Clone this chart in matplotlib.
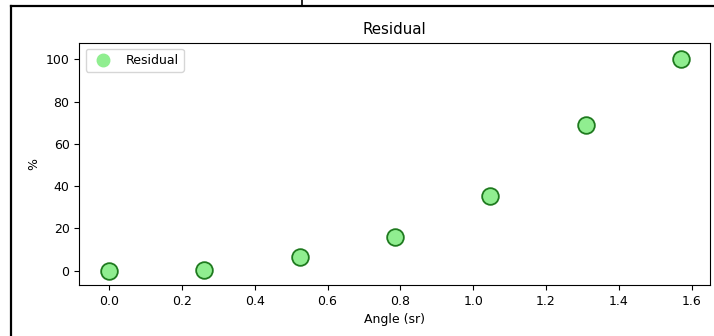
import numpy as np
import matplotlib
matplotlib.use("Agg")
import matplotlib.pyplot as plt
from matplotlib.lines import Line2D

# angles in 15 degree steps, residual in percent
angle = [0.0, 0.2618, 0.5236, 0.7854, 1.0472, 1.3090, 1.5708]
residual = [0.0, 0.1, 6.2, 16.1, 35.5, 68.7, 100.0]

fig = plt.figure(figsize=(7.14, 3.36), dpi=100)
ax = fig.add_axes([0.111, 0.152, 0.883, 0.721])

# legend entry (plain filled marker) drawn under the edged points
ax.plot(angle, residual, 'o', color='lightgreen', ms=9, label='Residual')
ax.scatter(angle, residual, s=144, c='lightgreen', edgecolors='#1f7a1f',
           linewidths=1.3, zorder=3)

ax.set_xlim(-0.082, 1.65)
ax.set_ylim(-6.8, 107.9)
ax.set_xticks(np.arange(0, 1.61, 0.2))
ax.set_yticks([0, 20, 40, 60, 80, 100])
ax.tick_params(labelsize=9)
ax.set_title('Residual', fontsize=10.8)
ax.set_xlabel('Angle (sr)', fontsize=9)
ax.set_ylabel('%', fontsize=9)
ax.legend(loc='upper left', fontsize=9)

# frame of the screenshot
fig.add_artist(Line2D([11.5/714, 1], [1-6/336, 1-6/336], color='black', lw=1.6))
fig.add_artist(Line2D([11.5/714, 11.5/714], [0, 1-6/336], color='black', lw=1.6))
fig.add_artist(Line2D([302/714, 302/714], [1-6/336, 1], color='black', lw=1.2))

fig.savefig('out.png', dpi=100)
